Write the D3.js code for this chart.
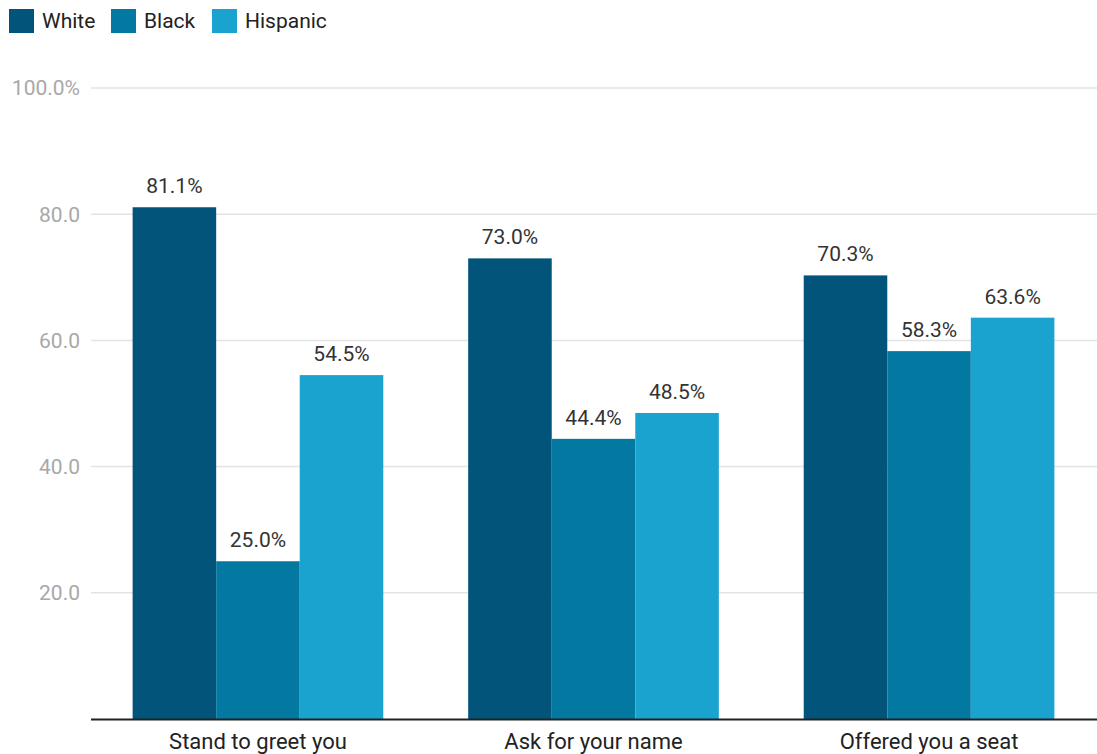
<!DOCTYPE html>
<html>
<head>
<meta charset="utf-8">
<script src="https://cdn.jsdelivr.net/npm/d3@7"></script>
<style>
  html, body { margin: 0; padding: 0; background: #fff; }
  svg { display: block; font-family: Roboto, "Noto Sans", sans-serif; }
</style>
</head>
<body>
<svg id="chart" width="1097" height="754"></svg>
<script>
// Survey responses by group
const categories = ["Stand to greet you", "Ask for your name", "Offered you a seat"];
const seriesNames = ["White", "Black", "Hispanic"];
const whiteValues = [81.1, 73.0, 70.3];
const blackValues = [25.0, 44.4, 58.3];
const hispanicValues = [54.5, 48.5, 63.6];
const yTicks = [20, 40, 60, 80, 100];
const yTickLabels = ["20.0", "40.0", "60.0", "80.0", "100.0%"];
const colors = ["#02547a", "#0378a0", "#1ba3cf"];

const seriesValues = [whiteValues, blackValues, hispanicValues];

const svg = d3.select("#chart");
const margin = { left: 90, right: 0, top: 88, bottom: 35 };
const width = 1097, height = 754;
const baseY = 719;

const y = d3.scaleLinear().domain([0, 100]).range([baseY, margin.top]);
const x0 = d3.scaleBand().domain(categories).range([margin.left, width])
  .paddingInner(0.253).paddingOuter(0.127);
const x1 = d3.scaleBand().domain(seriesNames).range([0, x0.bandwidth()]);

// Gridlines and tick labels
const grid = svg.append("g");
yTicks.forEach((t, i) => {
  grid.append("line")
    .attr("x1", 91).attr("x2", width)
    .attr("y1", y(t)).attr("y2", y(t))
    .attr("stroke", "#e3e3e3").attr("stroke-width", 1.5);
  grid.append("text")
    .attr("x", 80).attr("y", y(t)).attr("dy", "0.35em")
    .attr("text-anchor", "end")
    .attr("font-size", 21).attr("fill", "#a8a8a8")
    .text(yTickLabels[i]);
});

// Bars
const groups = svg.append("g").selectAll("g").data(categories).join("g")
  .attr("transform", d => `translate(${x0(d)},0)`);

groups.each(function (cat, ci) {
  const g = d3.select(this);
  seriesNames.forEach((s, si) => {
    const v = seriesValues[si][ci];
    g.append("rect")
      .attr("x", x1(s)).attr("width", x1.bandwidth())
      .attr("y", y(v)).attr("height", baseY - y(v))
      .attr("fill", colors[si]);
    g.append("text")
      .attr("x", x1(s) + x1.bandwidth() / 2)
      .attr("y", y(v) - 14)
      .attr("text-anchor", "middle")
      .attr("font-size", 21).attr("fill", "#333")
      .text(v.toFixed(1) + "%");
  });
});

// Baseline
svg.append("line")
  .attr("x1", 91).attr("x2", width)
  .attr("y1", baseY + 0.5).attr("y2", baseY + 0.5)
  .attr("stroke", "#222").attr("stroke-width", 2);

// Category labels
svg.append("g").selectAll("text").data(categories).join("text")
  .attr("x", d => x0(d) + x0.bandwidth() / 2)
  .attr("y", 749)
  .attr("text-anchor", "middle")
  .attr("font-size", 22).attr("fill", "#222")
  .text(d => d);

// Legend
const legendX = [9, 111, 212];
const legend = svg.append("g");
seriesNames.forEach((s, i) => {
  legend.append("rect")
    .attr("x", legendX[i]).attr("y", 9)
    .attr("width", 25).attr("height", 24)
    .attr("fill", colors[i]);
  legend.append("text")
    .attr("x", legendX[i] + 33).attr("y", 28)
    .attr("font-size", 21).attr("fill", "#222")
    .text(s);
});
</script>
</body>
</html>
